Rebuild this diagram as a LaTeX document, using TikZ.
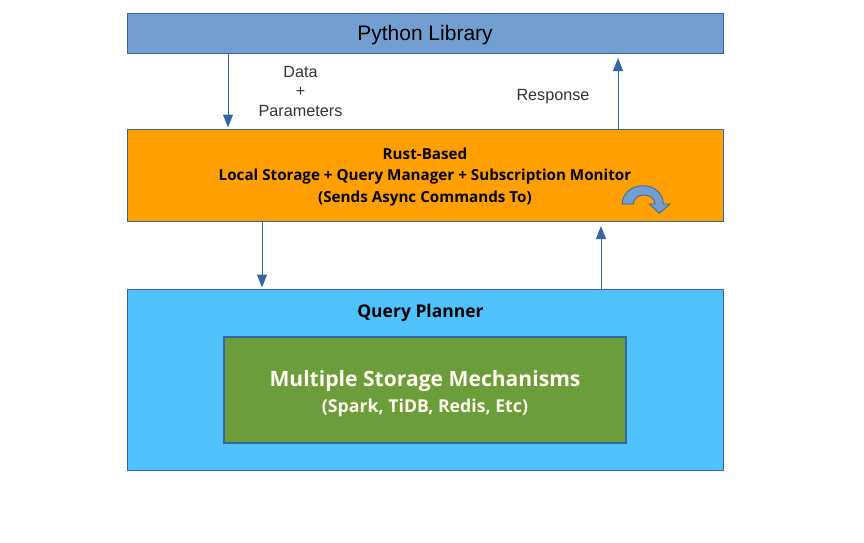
\documentclass[tikz,border=0pt]{standalone}
\usepackage{fontspec}
\setmainfont{Liberation Sans}
\newfontfamily\opensans{Open Sans}
\usetikzlibrary{arrows.meta, positioning}
\definecolor{edgeblue}{HTML}{3465A4}
\definecolor{pyblue}{HTML}{729FCF}
\definecolor{rustorange}{HTML}{FFA000}
\definecolor{plannerblue}{HTML}{4FC1FB}
\definecolor{storegreen}{HTML}{6B9E3A}
\tikzset{
  layerbox/.style={
    rectangle,
    draw=edgeblue,
    line width=0.8pt,
    outer sep=0pt,
    align=center,
    minimum width=596pt
  },
  arrow/.style={-{Triangle[length=13pt,width=10pt]}, draw=edgeblue, line width=1pt},
  sidelabel/.style={
    align=center,
    text=black!80,
    font=\fontsize{16.2}{19.5}\selectfont
  }
}

\begin{document}
\begin{tikzpicture}[x=1pt, y=-1pt]
  \useasboundingbox (0,0) rectangle (864,542);

  \node[layerbox, fill=pyblue, minimum height=40pt] (python) at (425,33) {};
  \node[font=\fontsize{21}{24}\selectfont] (pythontext) at (425,35) {Python Library};
  \node[layerbox, fill=rustorange, minimum height=92pt, below=76pt of python] (rust) {};
  \node[align=center, font=\opensans\bfseries\fontsize{15.2}{21.5}\selectfont] (rusttext) at (425,177)
    {Rust-Based\\Local Storage + Query Manager + Subscription Monitor\\(Sends Async Commands To)};
  \node[layerbox, fill=plannerblue, minimum height=181pt, below=68pt of rust] (planner) {};
  \node[font=\opensans\bfseries\fontsize{17.5}{20}\selectfont] (plannertitle) at (420.5,312.5) {Query Planner};
  \node[layerbox, fill=storegreen, line width=1.2pt, minimum width=402pt, minimum height=106pt] (storage) at (425,390) {};
  \node[font=\opensans\bfseries\fontsize{21.1}{26}\selectfont, text=white!94!yellow] (storagetitle) at (425,381) {Multiple Storage Mechanisms};
  \node[font=\opensans\bfseries\fontsize{17.7}{20}\selectfont, text=white!94!yellow] (storagelist) at (425,408) {(Spark, TiDB, Redis, Etc)};

  \node[sidelabel] (datalabel) at (300.5,91) {Data\\+\\Parameters};
  \node[sidelabel] (responselabel) at (553,97) {Response};

  \coordinate (datax) at (228,0);
  \coordinate (respx) at (618,0);
  \coordinate (sendx) at (262,0);
  \coordinate (backx) at (601,0);

  \draw[arrow, shorten >=1.5pt] (python.south -| datax) -- (rust.north -| datax);
  \draw[arrow, shorten >=5pt] (rust.north -| respx) -- (python.south -| respx);
  \draw[arrow, shorten >=1.5pt] (rust.south -| sendx) -- (planner.north -| sendx);
  \draw[arrow, shorten >=5pt] (planner.north -| backx) -- (rust.south -| backx);

  % loop mark on the orange box
  \path[fill=pyblue, draw=edgeblue, line width=0.8pt]
    (622.3,204) .. controls (622.3,193) and (632,185.7) .. (643,185.7)
    .. controls (654,185.7) and (663.3,193) .. (663.3,204)
    -- (670,204) -- (659.3,213.3) -- (649.3,204) -- (655,204)
    .. controls (655,199) and (650,195) .. (644,195)
    .. controls (638,195) and (633.3,199) .. (633.3,204) -- cycle;
\end{tikzpicture}
\end{document}
